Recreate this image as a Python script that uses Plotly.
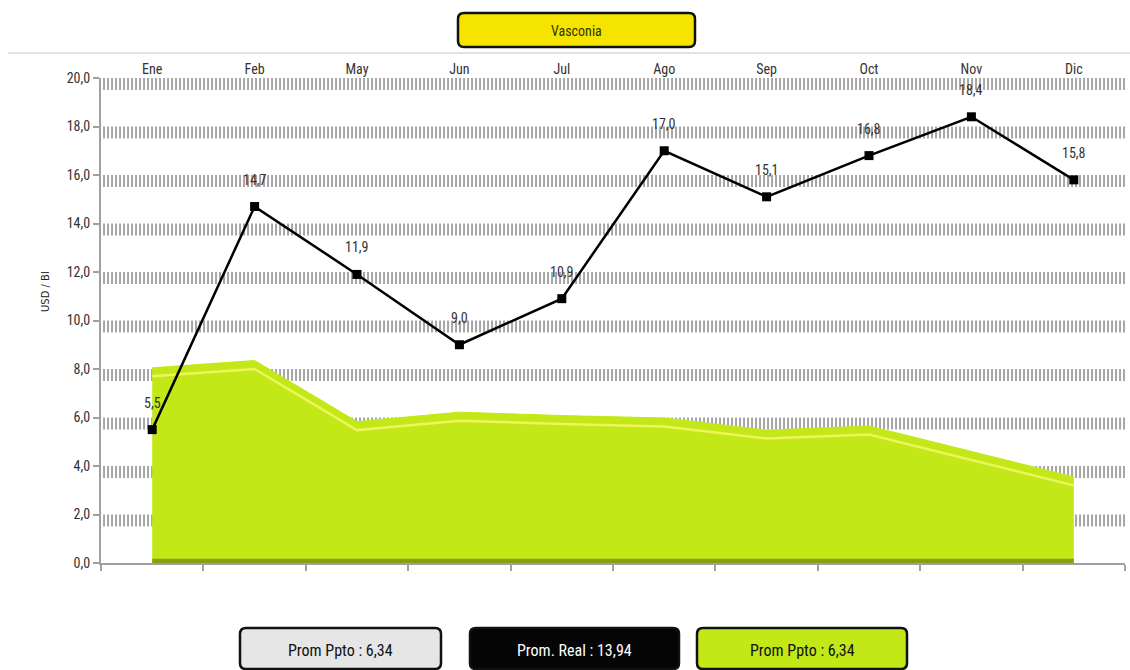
import plotly.graph_objects as go

months = ["Ene", "Feb", "May", "Jun", "Jul", "Ago", "Sep", "Oct", "Nov", "Dic"]
real = [5.5, 14.7, 11.9, 9.0, 10.9, 17.0, 15.1, 16.8, 18.4, 15.8]
ppto = [8.05, 8.35, 5.83, 6.22, 6.08, 5.98, 5.48, 5.65, 4.6, 3.55]
y_ticks = [0, 2, 4, 6, 8, 10, 12, 14, 16, 18, 20]
title_text = "Vasconia"
y_title = "USD / Bl"
button_texts = ["Prom Ppto : 6,34", "Prom. Real : 13,94", "Prom Ppto : 6,34"]

W, H = 1130, 670
ML, MR, MT, MB = 101, 5, 78, 107
PW, PH = W - ML - MR, H - MT - MB

FONT = "Liberation Sans Narrow, Arial Narrow, Roboto Condensed, Roboto, sans-serif"
GREEN = "#c2e818"


def px_x(px):
    return (px - ML) / PW


def px_y(py):
    return (H - MB - py) / PH


def rounded_rect(x0, y0, x1, y1, r):
    X = lambda v: f"{px_x(v):.5f}"
    Y = lambda v: f"{px_y(v):.5f}"
    return (f"M {X(x0 + r)},{Y(y0)} L {X(x1 - r)},{Y(y0)} "
            f"Q {X(x1)},{Y(y0)} {X(x1)},{Y(y0 + r)} L {X(x1)},{Y(y1 - r)} "
            f"Q {X(x1)},{Y(y1)} {X(x1 - r)},{Y(y1)} L {X(x0 + r)},{Y(y1)} "
            f"Q {X(x0)},{Y(y1)} {X(x0)},{Y(y1 - r)} L {X(x0)},{Y(y0 + r)} "
            f"Q {X(x0)},{Y(y0)} {X(x0 + r)},{Y(y0)} Z")


fig = go.Figure()

# budget area (3D-ish)
fig.add_trace(go.Scatter(
    x=months, y=ppto, mode="lines", fill="tozeroy",
    fillcolor=GREEN, line=dict(color=GREEN, width=1),
    hoverinfo="skip", showlegend=False))
fig.add_trace(go.Scatter(
    x=months, y=[v - 0.35 for v in ppto], mode="lines",
    line=dict(color="#eef55a", width=2.5),
    hoverinfo="skip", showlegend=False))
fig.add_trace(go.Scatter(
    x=months, y=[0.07] * len(months), mode="lines",
    line=dict(color="#86a012", width=5),
    hoverinfo="skip", showlegend=False))

# real line
fig.add_trace(go.Scatter(
    x=months, y=real, mode="lines+markers",
    line=dict(color="#000000", width=2.5),
    marker=dict(symbol="square", size=9, color="#000000"),
    showlegend=False))

# invisible trace to show top axis labels
fig.add_trace(go.Scatter(x=months, y=real, xaxis="x2", mode="markers",
                         marker=dict(opacity=0), hoverinfo="skip",
                         showlegend=False))

shapes = []
# hatched grid bands
for v in y_ticks[1:]:
    shapes.append(dict(type="line", xref="paper", yref="y",
                       x0=0.002, x1=1.0, y0=v - 0.25, y1=v - 0.25,
                       line=dict(color="#a6a6a6", width=12, dash="2px,2px"),
                       layer="below"))
# top separator line
shapes.append(dict(type="line", xref="paper", yref="paper",
                   x0=px_x(8), x1=px_x(1130), y0=px_y(53), y1=px_y(53),
                   line=dict(color="#e2e2e2", width=2)))
# title button
shapes.append(dict(type="path", xref="paper", yref="paper",
                   path=rounded_rect(458, 13, 695, 47, 6),
                   fillcolor="#f5e400", line=dict(color="#111111", width=2.5)))
# bottom buttons
btn_boxes = [(240, 441), (470, 679), (697, 907)]
btn_fill = ["#e6e6e6", "#050505", GREEN]
btn_font = ["#111111", "#ffffff", "#111111"]
for (x0, x1), fc in zip(btn_boxes, btn_fill):
    shapes.append(dict(type="path", xref="paper", yref="paper",
                       path=rounded_rect(x0, 628, x1, 669, 6),
                       fillcolor=fc, line=dict(color="#111111", width=2.5)))

annotations = []
for m, v in zip(months, real):
    annotations.append(dict(x=m, y=v, xref="x", yref="y",
                            text=f"{v:.1f}".replace(".", ","),
                            showarrow=False, yshift=27,
                            xanchor="center", yanchor="middle",
                            font=dict(family=FONT, size=14, color="#333333")))
annotations.append(dict(x=px_x(576), y=px_y(31), xref="paper", yref="paper",
                        text=title_text, showarrow=False,
                        xanchor="center", yanchor="middle",
                        font=dict(family=FONT, size=14, color="#333300")))
for (x0, x1), t, fcol in zip(btn_boxes, button_texts, btn_font):
    annotations.append(dict(x=px_x((x0 + x1) / 2), y=px_y(650),
                            xref="paper", yref="paper", text=t,
                            showarrow=False,
                            xanchor="center", yanchor="middle",
                            font=dict(family=FONT, size=16, color=fcol)))
annotations.append(dict(x=px_x(45), y=px_y(292), xref="paper", yref="paper",
                        text=y_title, textangle=-90, showarrow=False,
                        xanchor="center", yanchor="middle",
                        font=dict(family="DejaVu Sans, sans-serif", size=10,
                                  color="#222222")))

fig.update_layout(
    width=W, height=H,
    margin=dict(l=ML, r=MR, t=MT, b=MB),
    paper_bgcolor="white", plot_bgcolor="white",
    separators=",.",
    shapes=shapes, annotations=annotations,
    xaxis=dict(type="category", range=[-0.5, len(months) - 0.5],
               showticklabels=False, showgrid=False,
               showline=True, linecolor="#a0a0a0", linewidth=2,
               ticks="outside", tickson="boundaries", ticklen=6,
               tickcolor="#a0a0a0", tickwidth=2, zeroline=False),
    xaxis2=dict(type="category", overlaying="x", side="top",
                range=[-0.5, len(months) - 0.5], showgrid=False,
                showline=False, ticks="", ticklabelstandoff=0,
                tickfont=dict(family=FONT, size=14, color="#333333")),
    yaxis=dict(range=[0, 20], tickvals=y_ticks, tickformat=".1f",
               showgrid=False, zeroline=False,
               showline=True, linecolor="#a0a0a0", linewidth=2,
               ticks="outside", ticklen=6, tickcolor="#a0a0a0", tickwidth=2,
               tickfont=dict(family=FONT, size=14, color="#333333")),
)

fig.write_html("out.html")
